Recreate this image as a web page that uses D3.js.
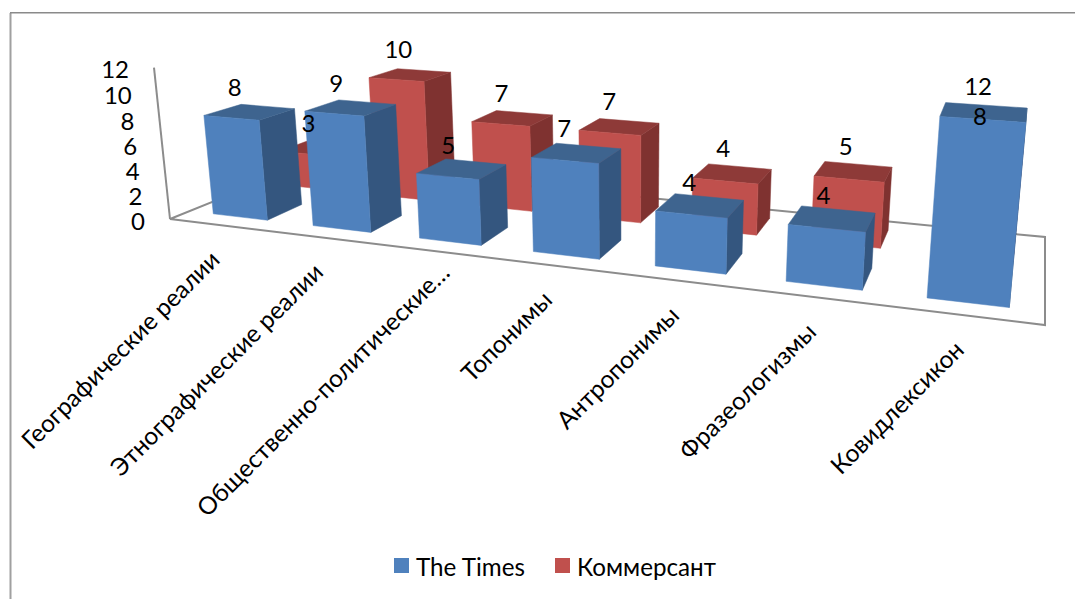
<!DOCTYPE html>
<html lang="ru">
<head>
<meta charset="utf-8">
<title>The Times и Коммерсант</title>
<script src="https://cdn.jsdelivr.net/npm/d3@7"></script>
<style>
  html, body { margin: 0; padding: 0; background: #fff; }
  svg { display: block; }
  text { font-family: Lato, "Open Sans", "Noto Sans", sans-serif; fill: #000; }
</style>
</head>
<body>
<script>
const categories = [
  "Географические реалии",
  "Этнографические реалии",
  "Общественно-политические…",
  "Топонимы",
  "Антропонимы",
  "Фразеологизмы",
  "Ковидлексикон"
];
const seriesNames = ["The Times", "Коммерсант"];
const timesValues = [8, 9, 5, 7, 4, 4, 12];
const kommersantValues = [3, 10, 7, 7, 4, 5, 8];
const valueTicks = [0, 2, 4, 6, 8, 10, 12];

const W = 1075, H = 599;
const palette = {
  "The Times": { front: "#4f81bd", side: "#34567f", top: "#3e648f" },
  "Коммерсант": { front: "#c0504d", side: "#7f3230", top: "#8e3a38" }
};

// Normalised scene coordinates: u along categories, v into the depth, h up.
const uScale = d3.scaleBand().domain(categories).range([0.003, 0.999]).paddingInner(0.45).paddingOuter(0.225);
const vScale = d3.scaleBand().domain(seriesNames).range([0, 1]).paddingInner(0.5).paddingOuter(0.25);
const hScale = d3.scaleLinear().domain([0, 12]).range([0, 1]);

// Floor quadrilateral and the vertical vanishing point of the camera.
const floor = { fl: [170, 219], fr: [1045, 325], br: [1045, 237], bl: [306, 164] };
const vertical = [627, 4545];
const axisTop = [154, 68];

// Homography taking the unit square onto the floor quadrilateral.
function squareToQuad(p0, p1, p2, p3) {
  const dx1 = p1[0] - p2[0], dx2 = p3[0] - p2[0], sx = p0[0] - p1[0] + p2[0] - p3[0];
  const dy1 = p1[1] - p2[1], dy2 = p3[1] - p2[1], sy = p0[1] - p1[1] + p2[1] - p3[1];
  const det = dx1 * dy2 - dx2 * dy1;
  const g = (sx * dy2 - dx2 * sy) / det;
  const k = (dx1 * sy - sx * dy1) / det;
  return [
    [p1[0] - p0[0] + g * p1[0], p3[0] - p0[0] + k * p3[0], p0[0]],
    [p1[1] - p0[1] + g * p1[1], p3[1] - p0[1] + k * p3[1], p0[1]],
    [g, k, 1]
  ];
}
const M = squareToQuad(floor.fl, floor.fr, floor.br, floor.bl);

// Strength of the height column, solved so that h = 1 at the origin hits the axis top.
const lambda = (floor.fl[0] - axisTop[0]) / (axisTop[0] - vertical[0]);

function project(u, v, h) {
  const X = M[0][0] * u + M[0][1] * v + M[0][2] + h * lambda * vertical[0];
  const Y = M[1][0] * u + M[1][1] * v + M[1][2] + h * lambda * vertical[1];
  const Z = M[2][0] * u + M[2][1] * v + M[2][2] + h * lambda;
  return [X / Z, Y / Z];
}

const svg = d3.select("body").append("svg").attr("width", W).attr("height", H);
const line = d3.line();

// Chart frame: left and top edges run off the page
svg.append("path")
  .attr("d", line([[10.5, H], [10.5, 13]]))
  .attr("fill", "none").attr("stroke", "#a0a0a0").attr("stroke-width", 2);
svg.append("path")
  .attr("d", line([[10, 12.8], [W, 12.8]]))
  .attr("fill", "none").attr("stroke", "#8a8a8a").attr("stroke-width", 1.5);

// Floor outline and value axis
svg.append("path")
  .attr("d", line([project(0, 0, 0), project(1, 0, 0), project(1, 1, 0), project(0, 1, 0)]) + "Z")
  .attr("fill", "none").attr("stroke", "#8c8c8c").attr("stroke-width", 2);
svg.append("path")
  .attr("d", line([project(0, 0, 0), project(0, 0, 1)]))
  .attr("fill", "none").attr("stroke", "#8c8c8c").attr("stroke-width", 2);

// Value tick labels
svg.append("g").selectAll("text").data(valueTicks).join("text")
  .attr("text-anchor", "end").attr("dominant-baseline", "central")
  .attr("font-size", 24)
  .attr("x", d => project(0, 0, hScale(d))[0] - 25)
  .attr("y", d => project(0, 0, hScale(d))[1] + 1)
  .text(d => d);

// Bars, back row first, each with side, top and front faces
const rows = [
  { name: "Коммерсант", values: kommersantValues },
  { name: "The Times", values: timesValues }
];
const bars = svg.append("g");
rows.forEach(row => {
  const v0 = vScale(row.name), v1 = v0 + vScale.bandwidth();
  const c = palette[row.name];
  row.values.forEach((val, i) => {
    const u0 = uScale(categories[i]), u1 = u0 + uScale.bandwidth();
    const h = hScale(val);
    const faces = [
      { fill: c.side, pts: [[u1, v0, 0], [u1, v1, 0], [u1, v1, h], [u1, v0, h]] },
      { fill: c.top, pts: [[u0, v0, h], [u1, v0, h], [u1, v1, h], [u0, v1, h]] },
      { fill: c.front, pts: [[u0, v0, 0], [u1, v0, 0], [u1, v0, h], [u0, v0, h]] }
    ];
    bars.selectAll(null).data(faces).join("path")
      .attr("d", f => line(f.pts.map(p => project(...p))) + "Z")
      .attr("fill", f => f.fill)
      .attr("stroke", f => f.fill).attr("stroke-width", 0.5);
  });
});

// Data labels float over the front top edge of each bar, drifting across the scene
const labelDrift = d3.scaleLinear().domain([0, 1]).range([4, -5]);
const labelLift = d3.scaleLinear().domain([0, 1]).range([30.5, 34.5]);
rows.forEach(row => {
  const v0 = vScale(row.name);
  const anchor = (d, i) => {
    const u = uScale(categories[i]) + uScale.bandwidth() / 2;
    const [x, y] = project(u, v0, hScale(d));
    return [x + labelDrift(u), y - labelLift(u)];
  };
  svg.append("g").selectAll("text").data(row.values).join("text")
    .attr("text-anchor", "middle").attr("dominant-baseline", "central")
    .attr("font-size", 24)
    .attr("x", (d, i) => anchor(d, i)[0])
    .attr("y", (d, i) => anchor(d, i)[1])
    .text(d => d);
});

// Category labels, slanted and ending under each bar group; the long clipped one sits further right
const labelShift = new Map([["Общественно-политические…", [16, -13]]]);
svg.append("g").selectAll("text").data(categories).join("text")
  .attr("text-anchor", "end").attr("font-size", 24.5)
  .attr("transform", d => {
    const [x, y] = project(uScale(d) + uScale.bandwidth() / 2, 0, 0);
    const [sx, sy] = labelShift.get(d) || [0, 0];
    return `translate(${x + sx},${y + 36 + sy}) rotate(-45)`;
  })
  .text(d => d);

// Legend
const legendItems = [
  { name: "The Times", x: 394 },
  { name: "Коммерсант", x: 555 }
];
const legend = svg.append("g").selectAll("g").data(legendItems).join("g")
  .attr("transform", d => `translate(${d.x},558)`);
legend.append("rect").attr("width", 15).attr("height", 15).attr("fill", d => palette[d.name].front);
legend.append("text").attr("x", 22).attr("y", 8).attr("dominant-baseline", "central")
  .attr("font-size", 24.2).text(d => d.name);
</script>
</body>
</html>
